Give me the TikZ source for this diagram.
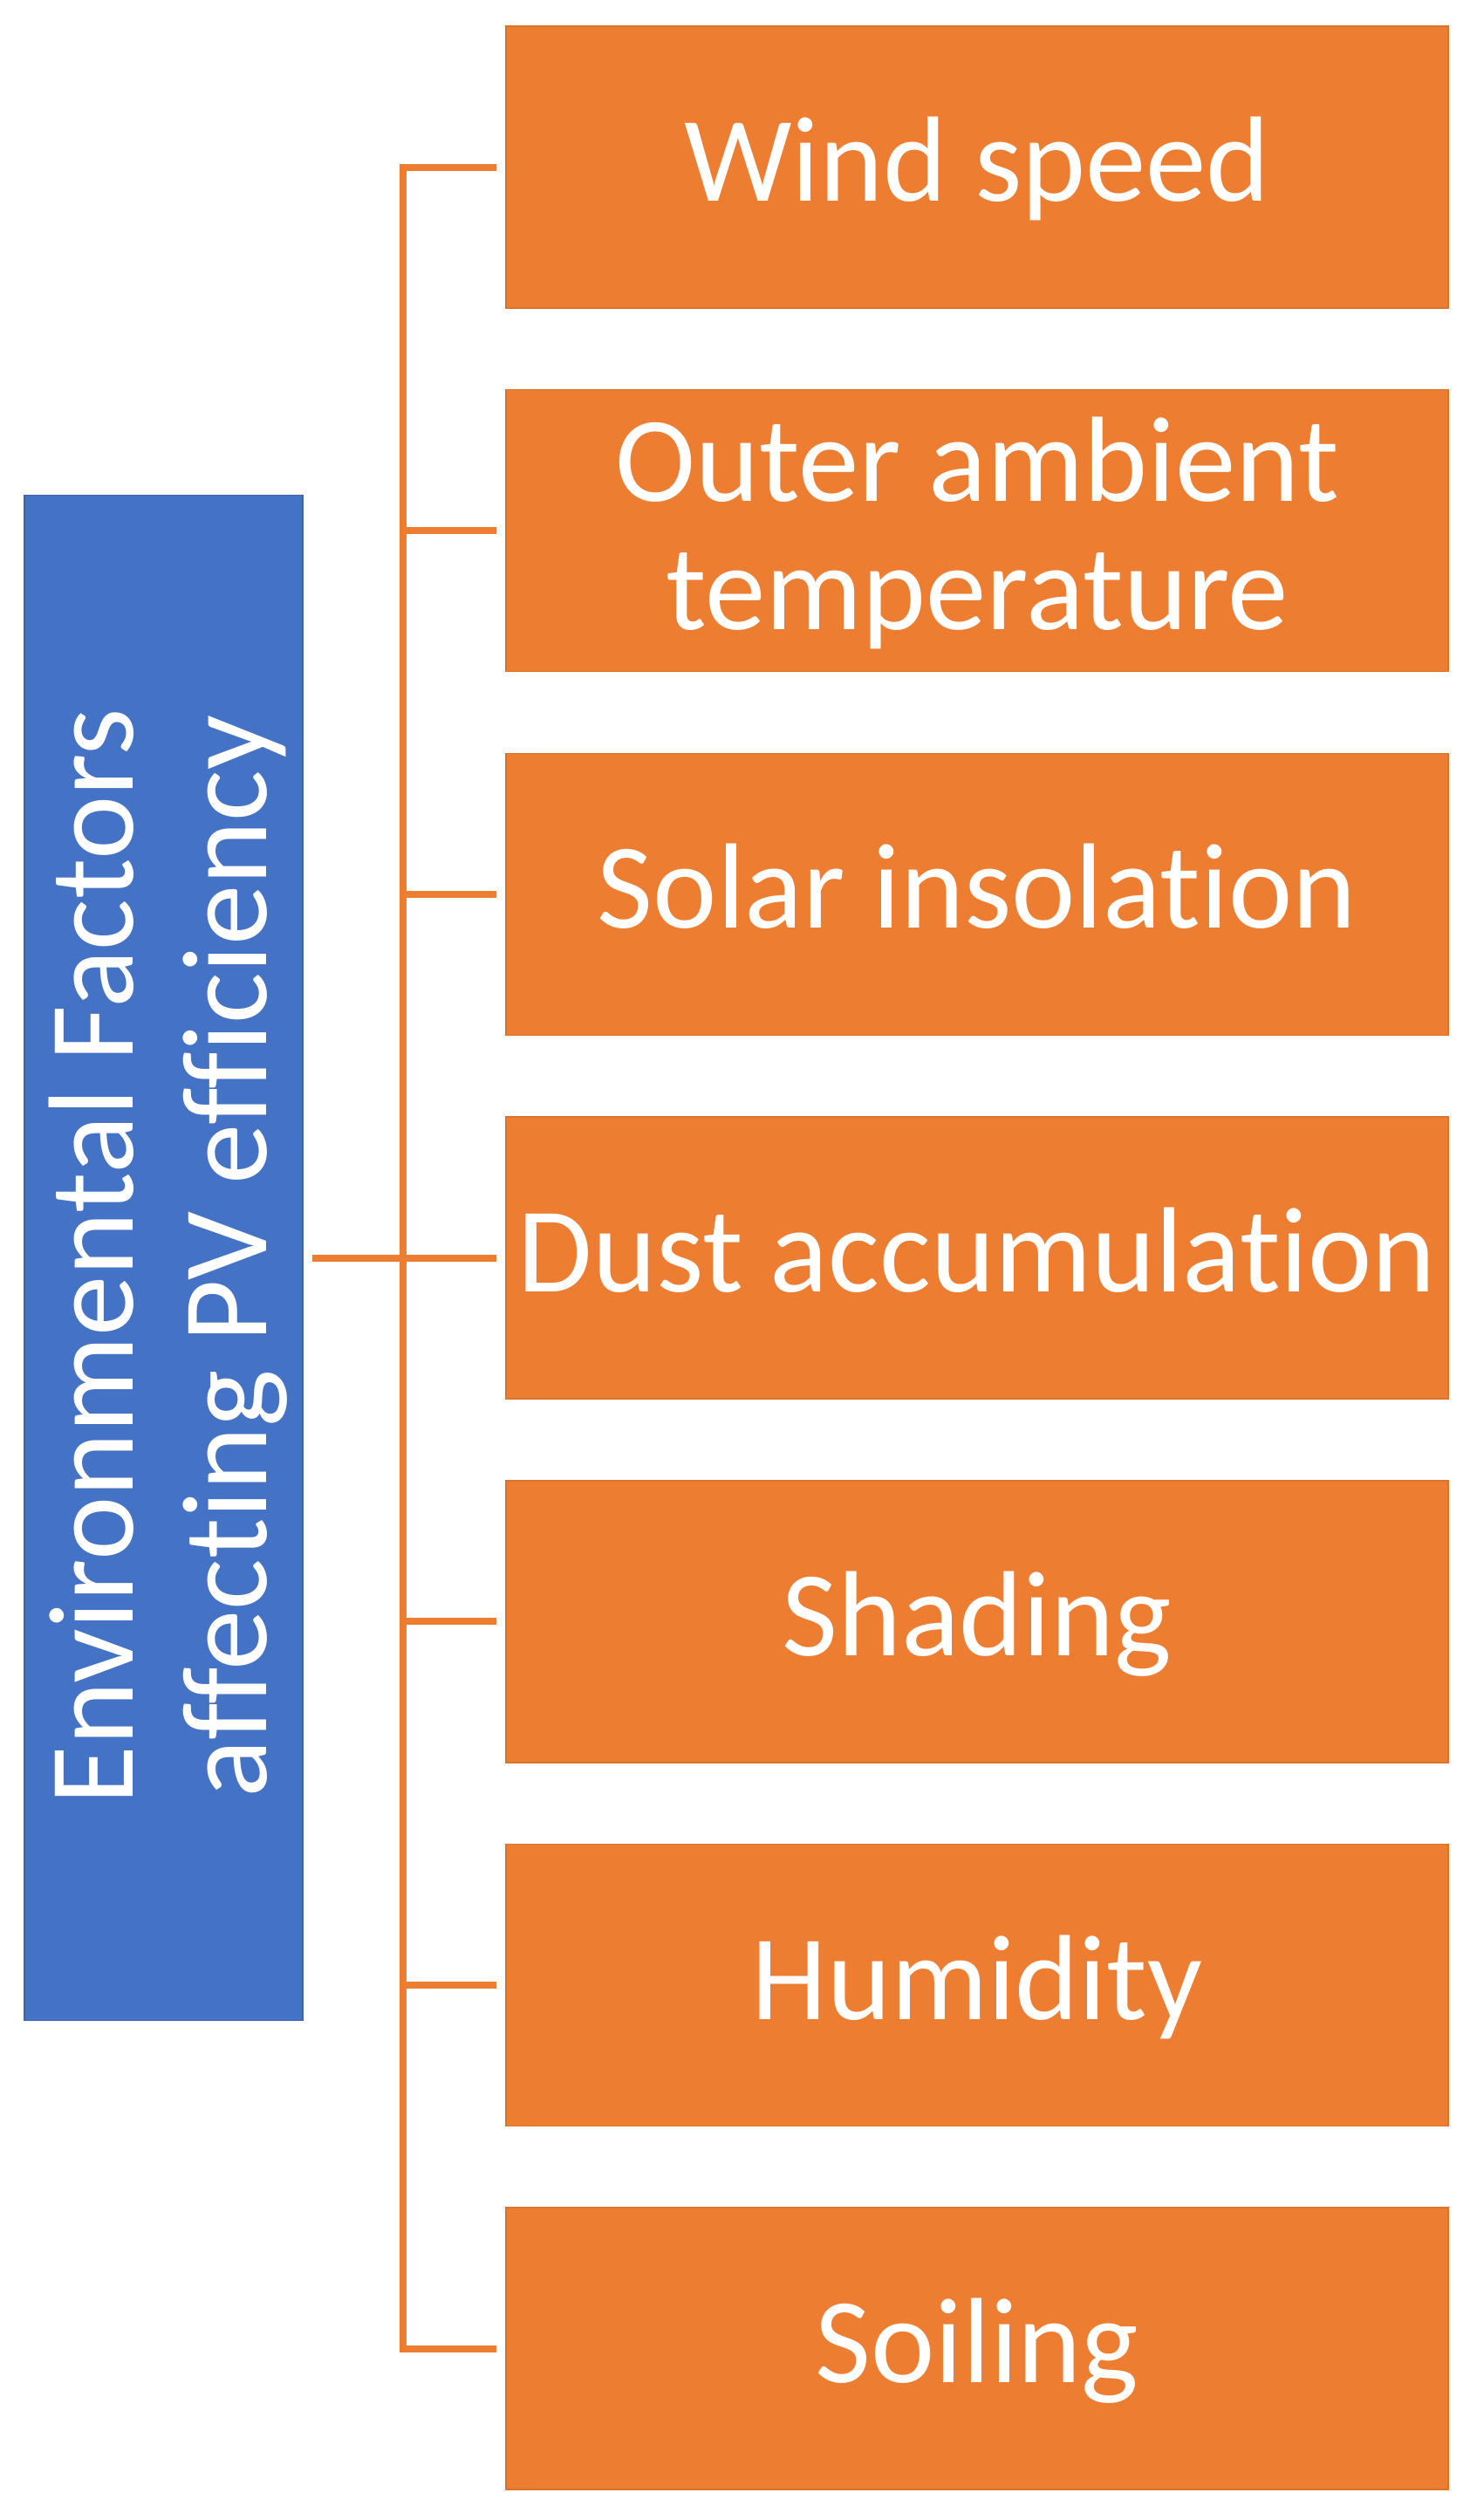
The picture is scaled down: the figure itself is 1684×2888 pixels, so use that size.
\documentclass[tikz,border=0pt]{standalone}
\usepackage{fontspec}
\setmainfont[Ligatures={NoCommon}]{Carlito}
\definecolor{accOrange}{HTML}{ED7D31}
\definecolor{accBlue}{HTML}{4472C4}
\begin{document}
\begin{tikzpicture}[x=1pt,y=-1pt,
  obox/.style={fill=accOrange, draw=accOrange!92!black, line width=1.5pt, minimum width=1080pt, minimum height=323pt, inner sep=0pt, outer sep=0pt},
  bbox/.style={fill=accBlue, draw=accBlue!88!black, line width=1.5pt, minimum width=319pt, minimum height=1748pt, inner sep=0pt, outer sep=0pt},
  lbl/.style={text=white, font=\fontsize{139}{147}\selectfont, inner sep=0pt, anchor=base},
  conn/.style={draw=accOrange, line width=8pt}]
\useasboundingbox (0,0) rectangle (1684,2888);
\fill[white] (0,0) rectangle (1684,2888);
% root
\node[bbox] (root) at (187.5,1441.6) {};
% factor boxes
\node[obox] (b1) at (1120,191.5) {};
\node[obox] (b2) at (1120,608.2) {};
\node[obox] (b3) at (1120,1024.9) {};
\node[obox] (b4) at (1120,1441.6) {};
\node[obox] (b5) at (1120,1858.3) {};
\node[obox] (b6) at (1120,2275.0) {};
\node[obox] (b7) at (1120,2691.7) {};
% labels (base anchor = baseline of the last line)
\node[lbl, rotate=90, align=center, font=\fontsize{139}{153}\selectfont] (rl) at (305,1440) {Environmental Factors\\affecting PV efficiency};
\node[lbl] (l1) at ([yshift=-39pt]b1.center) {Wind speed};
\node[lbl, align=center] (l2) at ([yshift=-113.5pt]b2.center) {Outer ambient\\temperature};
\node[lbl] (l3) at ([yshift=-39pt]b3.center) {Solar insolation};
\node[lbl] (l4) at ([yshift=-39pt]b4.center) {Dust accumulation};
\node[lbl] (l5) at ([yshift=-39pt]b5.center) {Shading};
\node[lbl] (l6) at ([yshift=-39pt]b6.center) {Humidity};
\node[lbl] (l7) at ([yshift=-39pt]b7.center) {Soiling};
% connectors
\coordinate (tk) at (462,1441.6);
\foreach \b in {b1,b2,b3,b5,b6,b7}
  \draw[conn, shorten >=11pt] (tk) |- (\b.west);
\draw[conn, shorten <=11pt, shorten >=11pt] (root.east) -- (b4.west);
\end{tikzpicture}
\end{document}
